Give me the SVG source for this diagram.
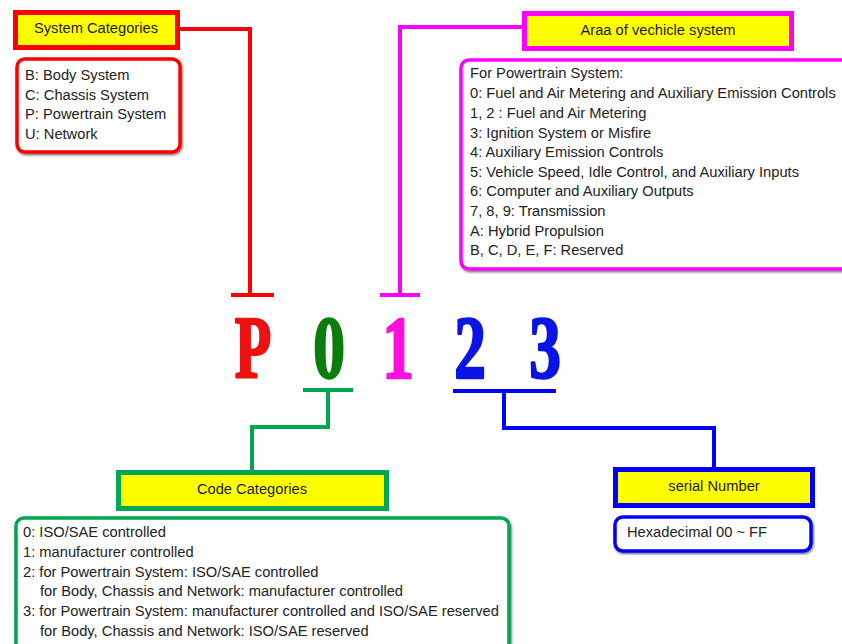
<svg xmlns="http://www.w3.org/2000/svg" width="842" height="644" viewBox="0 0 842 644">
<style>
.hdr{fill:#ffff00;stroke-width:5}
.lst{fill:#fff;stroke-width:3.5;filter:url(#sh)}
.ht{font-family:"Liberation Sans",Arial,sans-serif;font-size:14.7px;fill:#1a1a1a;text-anchor:middle}
.lt{font-family:"Liberation Sans",Arial,sans-serif;font-size:14.7px;fill:#222}
.big{font-family:"Liberation Serif","Times New Roman",serif;font-weight:bold;font-size:88px;text-anchor:middle;stroke-width:2.6;stroke-linejoin:round}
.con{fill:none;stroke-width:4;stroke-linecap:butt;stroke-linejoin:miter}
</style>
<defs>
<filter id="sh" x="-5%" y="-5%" width="110%" height="115%">
<feDropShadow dx="1" dy="1.5" stdDeviation="1" flood-color="#000" flood-opacity="0.55"/>
</filter>
</defs>
<rect width="842" height="644" fill="#fff"/>
<g id="connectors">
<path class="con" stroke="#ff0000" d="M180,29 H250 V295 M231,295 H274"/>
<path class="con" stroke="#ff00ff" d="M522,27 H400 V295 M380,295 H420"/>
<path class="con" stroke="#00a651" d="M303,390 H353 M328,390 V427 H252 V472"/>
<path class="con" stroke="#0000ff" d="M453,391 H556 M504,391 V428 H714 V469"/>
</g>
<g id="system-categories">
<rect class="hdr" stroke="#ff0000" x="15.5" y="12.5" width="162" height="35"/>
<text class="ht" x="96" y="33">System Categories</text>
</g>
<g id="system-list">
<rect class="lst" stroke="#ff0000" x="17" y="59" width="163" height="93" rx="8"/>
<text class="lt" x="25" y="80">B: Body System</text>
<text class="lt" x="25" y="99.5">C: Chassis System</text>
<text class="lt" x="25" y="119">P: Powertrain System</text>
<text class="lt" x="25" y="138.5">U: Network</text>
</g>
<g id="area-header">
<rect class="hdr" stroke="#ff00ff" x="524.5" y="13.5" width="267" height="35"/>
<text class="ht" x="658" y="35">Araa of vechicle system</text>
</g>
<g id="area-list">
<rect class="lst" stroke="#ff00ff" x="461" y="60" width="400" height="209" rx="8"/>
<text class="lt" x="470" y="78">For Powertrain System:</text>
<text class="lt" x="470" y="98">0: Fuel and Air Metering and Auxiliary Emission Controls</text>
<text class="lt" x="470" y="118">1, 2 : Fuel and Air Metering</text>
<text class="lt" x="470" y="137.5">3: Ignition System or Misfire</text>
<text class="lt" x="470" y="157">4: Auxiliary Emission Controls</text>
<text class="lt" x="470" y="177">5: Vehicle Speed, Idle Control, and Auxiliary Inputs</text>
<text class="lt" x="470" y="196">6: Computer and Auxiliary Outputs</text>
<text class="lt" x="470" y="216">7, 8, 9: Transmission</text>
<text class="lt" x="470" y="235.5">A: Hybrid Propulsion</text>
<text class="lt" x="470" y="255">B, C, D, E, F: Reserved</text>
</g>
<g id="code">
<text class="big" fill="#ee1111" stroke="#ee1111" transform="translate(253,377) scale(0.68,1)">P</text>
<text class="big" fill="#0a7d0a" stroke="#0a7d0a" transform="translate(329,377) scale(0.72,1)">0</text>
<text class="big" fill="#ff11dd" stroke="#ff11dd" transform="translate(398,377) scale(0.72,1)">1</text>
<text class="big" fill="#0a14e6" stroke="#0a14e6" transform="translate(470,377) scale(0.72,1)">2</text>
<text class="big" fill="#0a14e6" stroke="#0a14e6" transform="translate(545,377) scale(0.72,1)">3</text>
</g>
<g id="code-categories">
<rect class="hdr" stroke="#00a651" x="118.5" y="472.5" width="268" height="36"/>
<text class="ht" x="252" y="494">Code Categories</text>
</g>
<g id="code-list">
<rect class="lst" stroke="#00a651" x="16" y="518" width="493" height="140" rx="8"/>
<text class="lt" x="23" y="537">0: ISO/SAE controlled</text>
<text class="lt" x="23" y="557">1: manufacturer controlled</text>
<text class="lt" x="23" y="576.5">2: for Powertrain System: ISO/SAE controlled</text>
<text class="lt" x="40" y="596">for Body, Chassis and Network: manufacturer controlled</text>
<text class="lt" x="23" y="616">3: for Powertrain System: manufacturer controlled and ISO/SAE reserved</text>
<text class="lt" x="40" y="635.5">for Body, Chassis and Network: ISO/SAE reserved</text>
</g>
<g id="serial-number">
<rect class="hdr" stroke="#0000ff" x="615.5" y="469.5" width="197" height="36"/>
<text class="ht" x="714" y="491">serial Number</text>
</g>
<g id="serial-list">
<rect class="lst" stroke="#0000ff" x="615" y="517" width="196" height="34" rx="8"/>
<text class="lt" x="627" y="537">Hexadecimal 00 ~ FF</text>
</g>
</svg>
